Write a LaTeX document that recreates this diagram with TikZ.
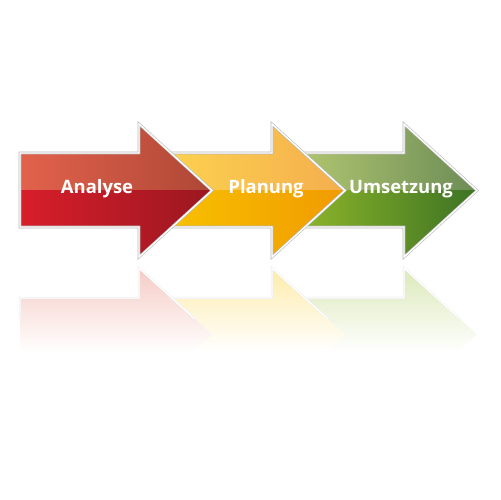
\documentclass[tikz,border=0pt]{standalone}
\usepackage{fontspec}
\newfontfamily\etiq{Open Sans}
\usepackage{tikz}
\usetikzlibrary{calc}

\definecolor{rougeA}{HTML}{E2624C}
\definecolor{rougeB}{HTML}{AE4736}
\definecolor{rougeC}{HTML}{D81E2B}
\definecolor{rougeD}{HTML}{9A1720}
\definecolor{jauneA}{HTML}{FDD44E}
\definecolor{jauneB}{HTML}{F4AE4E}
\definecolor{jauneC}{HTML}{F9C400}
\definecolor{jauneD}{HTML}{F09A00}
\definecolor{vertA}{HTML}{B6CA72}
\definecolor{vertB}{HTML}{6C8C56}
\definecolor{vertC}{HTML}{94BB2A}
\definecolor{vertD}{HTML}{3C7224}

\tikzset{
  bord/.style={draw=gray!55,line width=1.5pt,line join=miter},
  bordint/.style={draw=white,line width=0.8pt,line join=miter},
  etiquette/.style={text=white,font=\etiq\bfseries\fontsize{10.5}{12}\selectfont},
}

% contour d'une fleche, #1 = bord gauche
\newcommand{\Contour}[1]{(#1,153) -- (#1+119,153) -- (#1+119,124)
  -- (#1+192,190.5) -- (#1+119,257) -- (#1+119,227) -- (#1,227) -- cycle}
% contour du reflet (symetrie par rapport a y=262.5)
\newcommand{\ContourReflet}[1]{(#1,372) -- (#1+119,372) -- (#1+119,401)
  -- (#1+192,334.5) -- (#1+119,268) -- (#1+119,298) -- (#1,298) -- cycle}

\newcommand{\Fleche}[5]{%
  \begin{scope}
  \clip \Contour{#1};
  \shade[left color=#2,right color=#3] (#1,120) rectangle (#1+193,190.5);
  \shade[left color=#4,right color=#5] (#1,190.5) rectangle (#1+193,260);
  \end{scope}
  \draw[bord] \Contour{#1};
  \draw[bordint] \Contour{#1};
}

\newcommand{\Reflet}[2]{%
  \begin{scope}
  \clip \ContourReflet{#1};
  \shade[top color=#2!34,bottom color=white] (#1,266) rectangle (#1+193,352);
  \end{scope}
  \begin{scope}
  \clip (#1-5,262) rectangle (#1+200,318);
  \draw[draw=gray!18,line width=1.2pt] \ContourReflet{#1};
  \draw[bordint] \ContourReflet{#1};
  \end{scope}
}

\begin{document}
\begin{tikzpicture}[x=0.02cm,y=-0.02cm]
\useasboundingbox (0,0) rectangle (500,500);

% reflets
\Reflet{285}{vertC}
\Reflet{153}{jauneC}
\Reflet{20}{rougeA}

% fleches
\Fleche{285}{vertA}{vertB}{vertC}{vertD}
\Fleche{153}{jauneA}{jauneB}{jauneC}{jauneD}
\Fleche{20}{rougeA}{rougeB}{rougeC}{rougeD}

\node[etiquette] (analyse) at (97,189) {Analyse};
\node[etiquette] (planung) at (266,189) {Planung};
\node[etiquette] (umsetzung) at (401,189) {Umsetzung};

\end{tikzpicture}
\end{document}
